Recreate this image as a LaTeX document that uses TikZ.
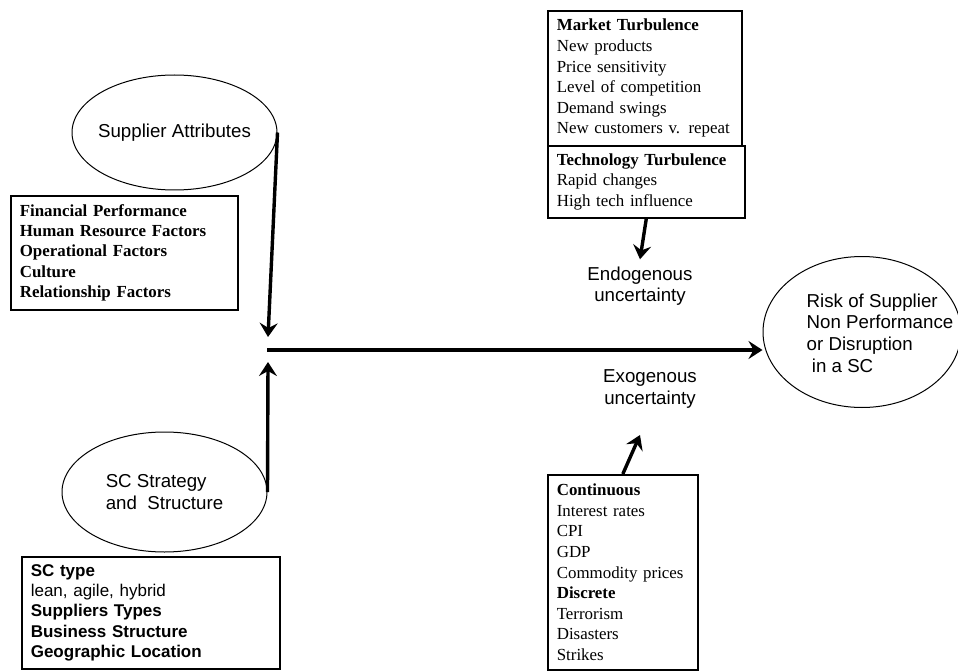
\documentclass[tikz,border=0pt]{standalone}
\usepackage{fontspec}
\setmainfont{Liberation Serif}
\setsansfont{Liberation Sans}
\usetikzlibrary{arrows.meta,calc,shapes.geometric}

\begin{document}
\begin{tikzpicture}[x=1pt,y=-1pt,
  oval/.style={draw,ellipse,line width=1pt,inner sep=0pt},
  lbl/.style={align=center,inner sep=0pt,font=\sffamily\fontsize{18.7}{21.6}\selectfont},
  factorbox/.style={draw,line width=1.6pt,anchor=north west,inner xsep=9pt,inner ysep=0pt,align=left,font=\fontsize{16.9}{20.6}\selectfont},
  bigarrow/.style={line width=3.4pt,-{Stealth[length=14pt,width=18pt,inset=5pt]}}]
  \useasboundingbox (0,0) rectangle (958,671);

  % ellipses
  \node[oval,minimum width=205,minimum height=115,label={[lbl]center:Supplier Attributes}] (supp) at (174.5,132.5) {};
  \node[oval,minimum width=205,minimum height=120,label={[lbl,align=left]center:SC Strategy\\and~ Structure}] (strat) at (164.5,492) {};
  \node[oval,minimum width=198,minimum height=151] (risk) at (862,332) {};
  \node[lbl,align=left] (risktxt) at (880,333) {Risk of Supplier\\Non Performance\\or Disruption\\~in a SC};

  % boxes of factors
  \node[factorbox,text width=209pt,minimum height=114,font=\bfseries\fontsize{16.9}{20.3}\selectfont] (fin) at (10,195)
    {Financial Performance\\Human Resource Factors\\Operational Factors\\Culture\\Relationship Factors};
  \node[factorbox,text width=240pt,minimum height=112,font=\sffamily\fontsize{17}{20.3}\selectfont] (type) at (21,556)
    {\textbf{SC type}\\lean, agile, hybrid\\\textbf{Suppliers Types}\\\textbf{Business Structure}\\\textbf{Geographic Location}};
  \node[factorbox,text width=176pt,minimum height=135] (market) at (547,10)
    {\textbf{Market Turbulence}\\New products\\Price sensitivity\\Level of competition\\Demand swings\\New customers v. repeat};
  \node[factorbox,text width=179pt,minimum height=72] (tech) at (547,145)
    {\textbf{Technology Turbulence}\\Rapid changes\\High tech influence};
  \node[factorbox,text width=132pt,minimum height=195] (cont) at (547,474)
    {\textbf{Continuous}\\Interest rates\\CPI\\GDP\\Commodity prices\\\textbf{Discrete}\\Terrorism\\Disasters\\Strikes};

  % uncertainty labels
  \node[lbl,inner sep=7pt] (endo) at (640,286) {Endogenous\\uncertainty};
  \node[lbl] (exo) at (650,389) {Exogenous\\uncertainty};

  % arrows
  \coordinate (hub) at (267,350);
  \coordinate (hubtop) at (268,337);
  \coordinate (hubbot) at (268,362);
  \coordinate (exotip) at (640,435);
  \draw[bigarrow] (supp.east) -- (hubtop);
  \draw[bigarrow] (strat.east) -- (hubbot);
  \draw[bigarrow] (hub) -- (hub -| risk.west);
  \draw[bigarrow] (tech.south) -- (endo.north);
  \draw[bigarrow] (cont.north) -- (exotip);
\end{tikzpicture}
\end{document}
